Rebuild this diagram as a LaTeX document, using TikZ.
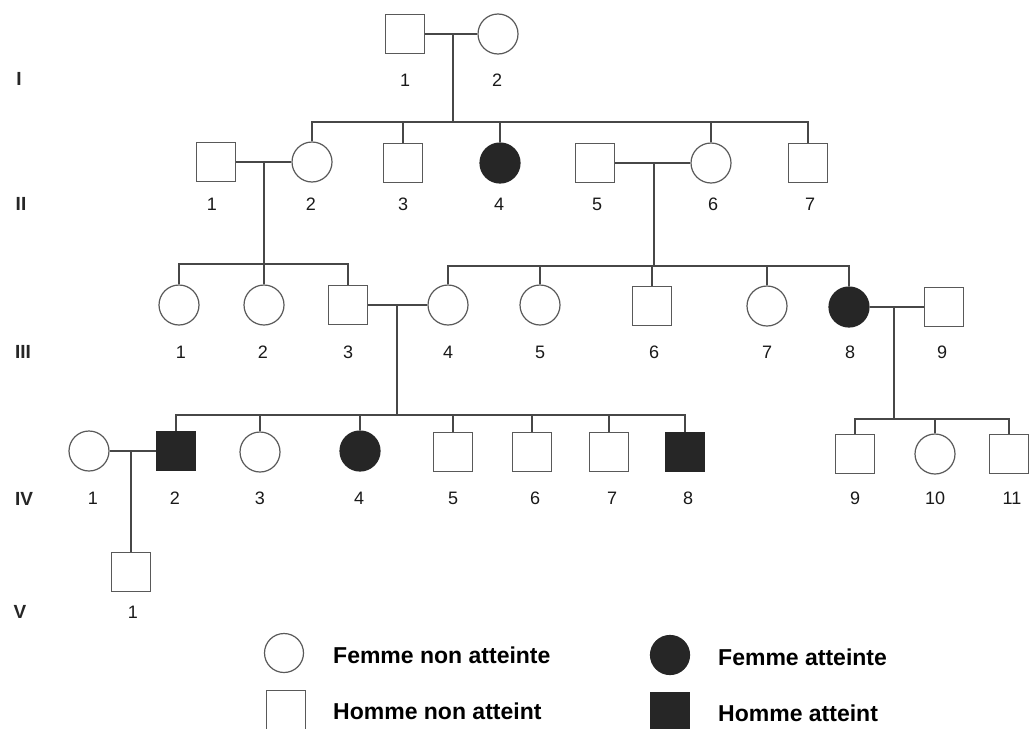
\documentclass[tikz,border=0pt]{standalone}
\usepackage{fontspec}
\setmainfont{Liberation Sans}
\begin{document}
\begin{tikzpicture}[x=1pt,y=-1pt,
  line/.style={draw=black!72,line width=1.3pt},
  sq/.style={draw=black!65,line width=1.2pt,rectangle,minimum size=39pt,inner sep=0pt},
  ci/.style={draw=black!65,line width=1.2pt,circle,minimum size=40pt,inner sep=0pt},
  asq/.style={sq,fill=black!85,draw=black!85},
  aci/.style={ci,fill=black!85,draw=black!85},
  num/.style={font=\fontsize{18}{18}\selectfont,text=black!90,inner sep=0pt},
  gen/.style={font=\fontsize{19}{19}\bfseries\selectfont,text=black!85,inner sep=0pt},
  leg/.style={font=\fontsize{23}{23}\bfseries\selectfont,anchor=west,inner sep=0pt}]
\useasboundingbox[fill=white] (0,0) rectangle (1032,728);

% generation labels
\node[gen] (gI) at (19,79) {I};
\node[gen] (gII) at (21,204) {II};
\node[gen] (gIII) at (23,352) {III};
\node[gen] (gIV) at (24,499) {IV};
\node[gen] (gV) at (20,612) {V};

% Generation I
\node[sq] (I1) at (405,34) {};
\node[ci] (I2) at (498,34) {};
\node[num] (lI1) at (405,80) {1};
\node[num] (lI2) at (497,80) {2};

% Generation II
\node[sq] (II1) at (216,162) {};
\node[ci] (II2) at (312,162) {};
\node[sq] (II3) at (403,163) {};
\node[aci] (II4) at (500,163) {};
\node[sq] (II5) at (595,163) {};
\node[ci] (II6) at (711,163) {};
\node[sq] (II7) at (808,163) {};
\foreach \n/\x in {1/212,2/311,3/403,4/499,5/597,6/713,7/810}
  \node[num] (lII\n) at (\x,204) {\n};

% Generation III
\node[ci] (III1) at (179,305) {};
\node[ci] (III2) at (264,305) {};
\node[sq] (III3) at (348,305) {};
\node[ci] (III4) at (448,305) {};
\node[ci] (III5) at (540,305) {};
\node[sq] (III6) at (652,306) {};
\node[ci] (III7) at (767,306) {};
\node[aci] (III8) at (849,307) {};
\node[sq] (III9) at (944,307) {};
\foreach \n/\x in {1/181,2/263,3/348,4/448,5/540,6/654,7/767,8/850,9/942}
  \node[num] (lIII\n) at (\x,352) {\n};

% Generation IV
\node[ci] (IV1) at (89,451) {};
\node[asq] (IV2) at (176,451) {};
\node[ci] (IV3) at (260,452) {};
\node[aci] (IV4) at (360,451) {};
\node[sq] (IV5) at (453,452) {};
\node[sq] (IV6) at (532,452) {};
\node[sq] (IV7) at (609,452) {};
\node[asq] (IV8) at (685,452) {};
\node[sq] (IV9) at (855,454) {};
\node[ci] (IV10) at (935,454) {};
\node[sq] (IV11) at (1009,454) {};
\foreach \n/\x in {1/93,2/175,3/260,4/359,5/453,6/535,7/612,8/688,9/855,10/935,11/1012}
  \node[num] (lIV\n) at (\x,498) {\n};

% Generation V
\node[sq] (V1) at (131,572) {};
\node[num] (lV1) at (133,612) {1};

% ---- connectors ----
% I1 x I2
\coordinate (mI) at (453,34);
\coordinate (sI) at (453,122);
\draw[line] (I1.east) -- (I2.west);
\draw[line] (mI) -- (sI);
\draw[line] (II2.north) -- (II2.north |- sI) -- (II7.north |- sI) -- (II7.north);
\foreach \c in {II3,II4,II6} \draw[line] (\c.north) -- (\c.north |- sI);

% II1 x II2
\coordinate (mII1) at (264,162);
\coordinate (sII1) at (264,264);
\draw[line] (II1.east) -- (II2.west);
\draw[line] (mII1) -- (sII1);
\draw[line] (III1.north) -- (III1.north |- sII1) -- (III3.north |- sII1) -- (III3.north);
\draw[line] (III2.north) -- (III2.north |- sII1);

% II5 x II6
\coordinate (mII5) at (654,163);
\coordinate (sII5) at (654,266);
\draw[line] (II5.east) -- (II6.west);
\draw[line] (mII5) -- (sII5);
\draw[line] (III4.north) -- (III4.north |- sII5) -- (III8.north |- sII5) -- (III8.north);
\foreach \c in {III5,III6,III7} \draw[line] (\c.north) -- (\c.north |- sII5);

% III3 x III4
\coordinate (mIII3) at (397,305);
\coordinate (sIII3) at (397,415);
\draw[line] (III3.east) -- (III4.west);
\draw[line] (mIII3) -- (sIII3);
\draw[line] (IV2.north) -- (IV2.north |- sIII3) -- (IV8.north |- sIII3) -- (IV8.north);
\foreach \c in {IV3,IV4,IV5,IV6,IV7} \draw[line] (\c.north) -- (\c.north |- sIII3);

% III8 x III9
\coordinate (mIII8) at (894,307);
\coordinate (sIII8) at (894,419);
\draw[line] (III8.east) -- (III9.west);
\draw[line] (mIII8) -- (sIII8);
\draw[line] (IV9.north) -- (IV9.north |- sIII8) -- (IV11.north |- sIII8) -- (IV11.north);
\draw[line] (IV10.north) -- (IV10.north |- sIII8);

% IV1 x IV2
\coordinate (mIV1) at (131,451);
\draw[line] (IV1.east) -- (IV2.west);
\draw[line] (mIV1) -- (V1.north);

% ---- legend ----
\node[ci,minimum size=39pt] (L1) at (284,653) {};
\node[leg] (tL1) at (333,655) {Femme non atteinte};
\node[sq] (L2) at (286,710) {};
\node[leg] (tL2) at (333,711) {Homme non atteint};
\node[aci,minimum size=39pt] (L3) at (670,655) {};
\node[leg] (tL3) at (718,657) {Femme atteinte};
\node[asq] (L4) at (670,712) {};
\node[leg] (tL4) at (718,713) {Homme atteint};
\end{tikzpicture}
\end{document}
